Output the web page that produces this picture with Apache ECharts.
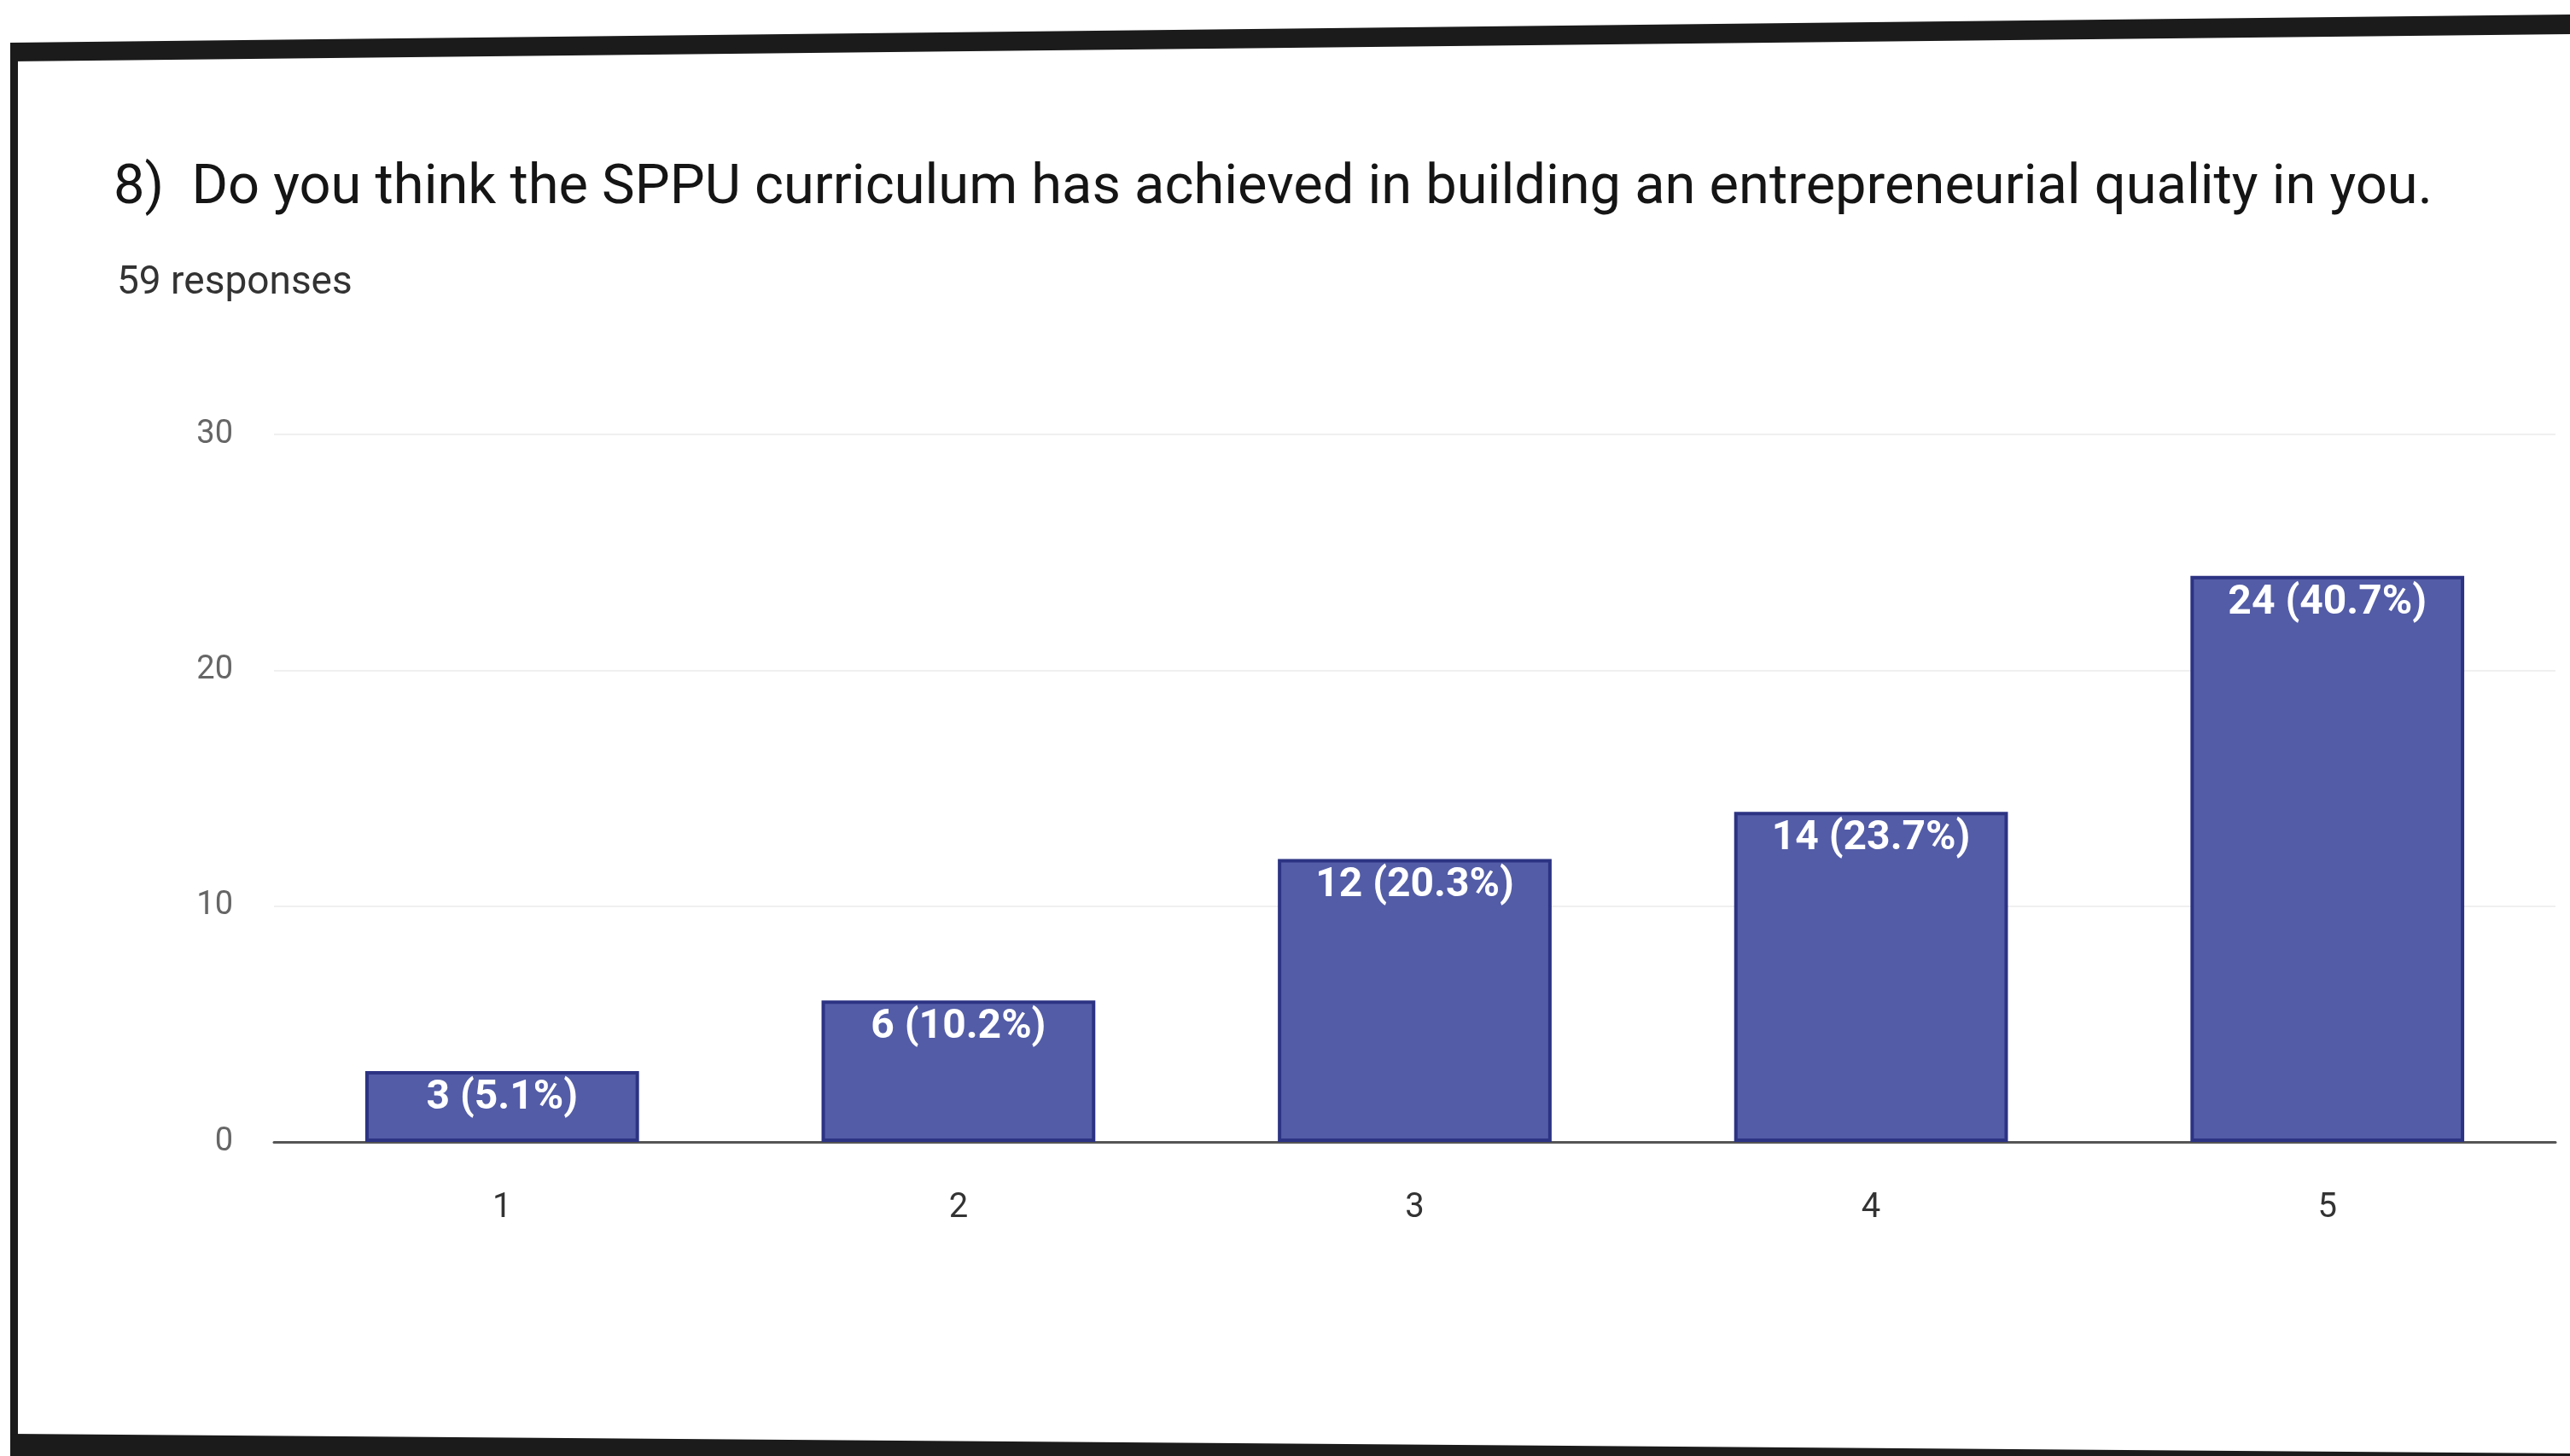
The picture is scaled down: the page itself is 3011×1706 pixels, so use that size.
<!DOCTYPE html>
<html>
<head>
<meta charset="utf-8">
<script src="https://cdn.jsdelivr.net/npm/echarts@6/dist/echarts.min.js"></script>
<style>
  html, body { margin: 0; padding: 0; background: #ffffff; }
  #chart { width: 3011px; height: 1706px; }
</style>
</head>
<body>
<div id="chart"></div>
<script>
var categories = ['1', '2', '3', '4', '5'];
var counts = [3, 6, 12, 14, 24];
var percents = ['5.1%', '10.2%', '20.3%', '23.7%', '40.7%'];
var yTicks = [0, 10, 20, 30];

var chartDom = document.getElementById('chart');
var myChart = echarts.init(chartDom);

var option = {
  backgroundColor: '#ffffff',
  animation: false,
  title: [
    {
      text: '8)  Do you think the SPPU curriculum has achieved in building an entrepreneurial quality in you.',
      left: 128,
      top: 184,
      textStyle: { fontFamily: 'Roboto', fontWeight: 'normal', fontSize: 65, color: '#151515' }
    },
    {
      text: '59 responses',
      left: 132,
      top: 304,
      textStyle: { fontFamily: 'Roboto', fontWeight: 'normal', fontSize: 46, color: '#333333' }
    }
  ],
  grid: { left: 321, right: 17, top: 509, bottom: 368, containLabel: false },
  xAxis: {
    type: 'category',
    data: categories,
    axisLine: { lineStyle: { color: '#555555', width: 3 } },
    axisTick: { show: false },
    axisLabel: { fontFamily: 'Roboto', fontSize: 40, color: '#333333', margin: 58 }
  },
  yAxis: {
    type: 'value',
    min: yTicks[0],
    max: yTicks[yTicks.length - 1],
    interval: 10,
    axisLine: { show: false },
    axisTick: { show: false },
    axisLabel: { fontFamily: 'Roboto', fontSize: 38, color: '#666666', margin: 48 },
    splitLine: { lineStyle: { color: '#f0f0f0', width: 2 } }
  },
  series: [
    {
      type: 'bar',
      data: counts,
      barCategoryGap: '40%',
      itemStyle: { color: '#535ca6', borderColor: '#2c3383', borderWidth: 4 },
      label: {
        show: true,
        position: 'insideTop',
        distance: 8,
        fontFamily: 'Roboto',
        fontWeight: 'bold',
        fontSize: 48,
        color: '#ffffff',
        formatter: function (p) { return p.value + ' (' + percents[p.dataIndex] + ')'; }
      }
    }
  ],
  // photo frame round the card
  graphic: [
    { type: 'polygon', silent: true, shape: { points: [[12, 50], [3011, 17], [3011, 40], [12, 72]] }, style: { fill: '#1b1b1b' } },
    { type: 'rect', silent: true, shape: { x: 12, y: 50, width: 9, height: 1656 }, style: { fill: '#1b1b1b' } },
    { type: 'polygon', silent: true, shape: { points: [[12, 1680], [3011, 1703], [3011, 1706], [12, 1706]] }, style: { fill: '#1b1b1b' } }
  ]
};

myChart.setOption(option);
</script>
</body>
</html>
